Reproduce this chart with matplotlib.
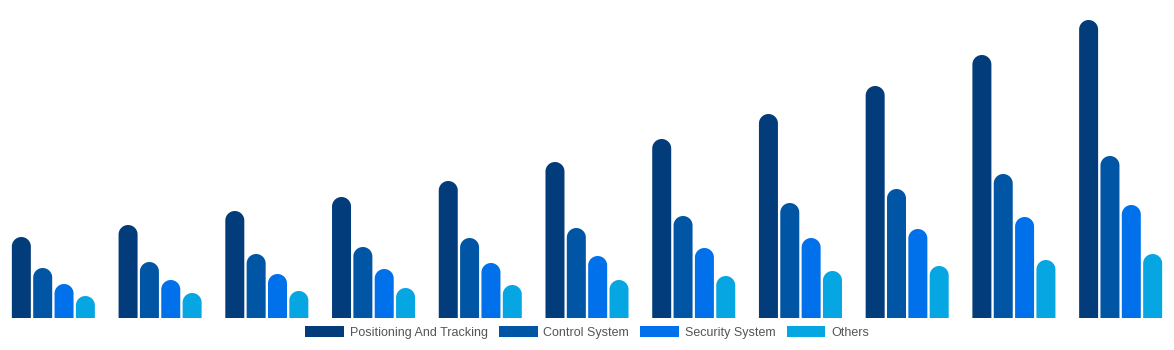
import matplotlib
matplotlib.use("Agg")
import matplotlib.pyplot as plt
from matplotlib.patches import PathPatch, Patch
from matplotlib.path import Path
import numpy as np

categories = ["G1", "G2", "G3", "G4", "G5", "G6", "G7", "G8", "G9", "G10", "G11"]
series_names = ["Positioning And Tracking", "Control System", "Security System", "Others"]
positioning = [81, 93, 107, 121, 137, 156, 179, 204, 232, 263, 298]
control = [50, 56, 64, 71, 80, 90, 102, 115, 129, 144, 162]
security = [34, 38, 44, 49, 55, 62, 70, 80, 89, 101, 113]
others = [22, 25, 27, 30, 33, 38, 42, 47, 52, 58, 64]
colors = ["#023C7A", "#0055A5", "#0070EB", "#06A6E3"]

W, H = 1174, 350
fig = plt.figure(figsize=(W / 100, H / 100), dpi=100)
base_px = 318
ax = fig.add_axes([0, (H - base_px) / H, 1, base_px / H])
ax.set_xlim(-0.5, len(categories) - 0.5)
ax.set_ylim(0, base_px)
ax.axis("off")

x = np.arange(len(categories))
pitch = 0.2
width = 0.178
px_per_x = W / len(categories)
r_y = width / 2 * px_per_x  # cap radius in y data units (1 unit = 1 px)
theta = np.linspace(0, np.pi, 40)
data = [positioning, control, security, others]
for i, (vals, col) in enumerate(zip(data, colors)):
    bars = ax.bar(x + (i - 1.5) * pitch, vals, width=width, color=col,
                  edgecolor="none")
    for b in bars:
        bx, bw, bh = b.get_x(), b.get_width(), b.get_height()
        b.set_visible(False)
        cx, cy = bx + bw / 2, bh - r_y
        arc_x = cx + (bw / 2) * np.cos(theta)
        arc_y = cy + r_y * np.sin(theta)
        verts = [(bx + bw, 0), (bx + bw, cy)] + list(zip(arc_x, arc_y)) + \
                [(bx, cy), (bx, 0), (bx + bw, 0)]
        path = Path(verts, closed=True)
        ax.add_patch(PathPatch(path, facecolor=col, edgecolor="none"))

handles = [Patch(facecolor=c, edgecolor="none") for c in colors]
fig.legend(handles, series_names, loc="center", bbox_to_anchor=(0.5, 0.051),
           ncol=4, frameon=False, handlelength=3.1, handleheight=1.0,
           handletextpad=0.45, columnspacing=0.9, labelcolor="#555555",
           prop={"family": "Liberation Sans", "size": 9})

fig.savefig("out.png", dpi=100)
